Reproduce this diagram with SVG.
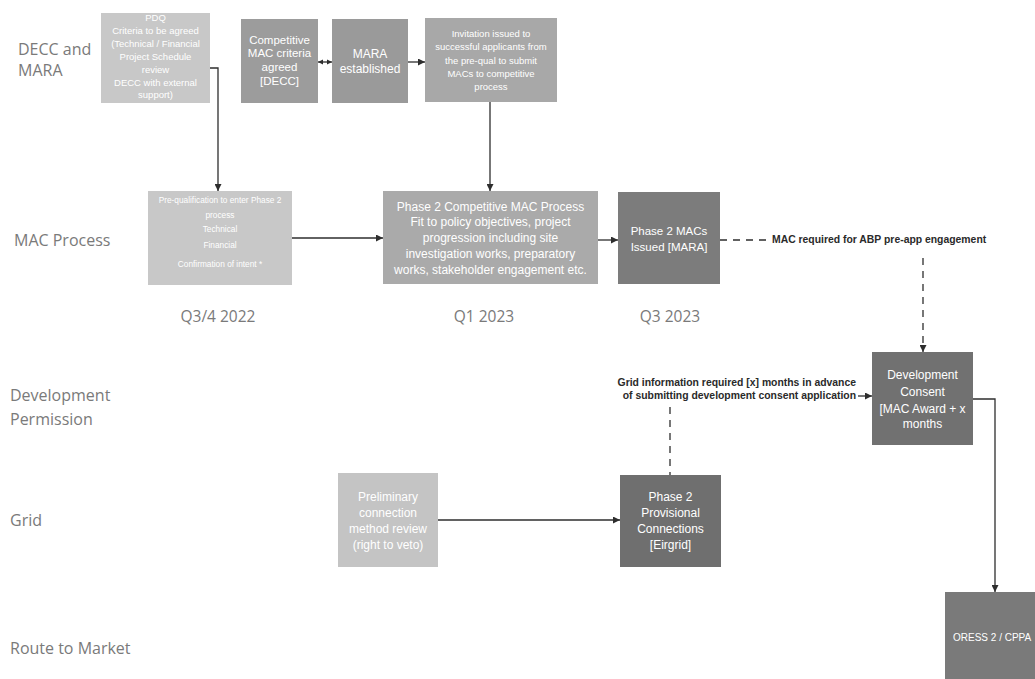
<svg xmlns="http://www.w3.org/2000/svg" width="1035" height="679" viewBox="0 0 1035 679">
<defs>
<style>
.lane{font-family:"Open Sans","Liberation Sans",sans-serif;font-size:16px;fill:#7a7a7a}
.q{font-family:"Open Sans","Liberation Sans",sans-serif;font-size:15.5px;fill:#7a7a7a;text-anchor:middle}
.bt{font-family:"Liberation Sans",Arial,sans-serif;fill:#ffffff;text-anchor:middle}
.light{fill:#c8c8c8}
.mid{fill:#a2a2a2}
.dark{fill:#747474}
.ln{fill:none;stroke:#2e2e2e;stroke-width:1.3}
.dash{fill:none;stroke:#2e2e2e;stroke-width:1.3;stroke-dasharray:7,6}
.note{font-family:"Liberation Sans",Arial,sans-serif;font-size:10.4px;fill:#2a2a2a;font-weight:bold}
</style>
<marker id="ah" viewBox="0 0 10 10" refX="10" refY="5" markerWidth="7" markerHeight="7" orient="auto-start-reverse" markerUnits="userSpaceOnUse">
<path d="M0,0 L10,5 L0,10 z" fill="#2e2e2e"/>
</marker>
<marker id="ahs" viewBox="0 0 10 10" refX="10" refY="5" markerWidth="5" markerHeight="6" orient="auto-start-reverse" markerUnits="userSpaceOnUse">
<path d="M0,0 L10,5 L0,10 z" fill="#2e2e2e"/>
</marker>
</defs>
<rect width="1035" height="679" fill="#ffffff"/>

<g id="lanes">
<text class="lane" x="18" y="55">DECC and</text>
<text class="lane" x="18" y="76">MARA</text>
<text class="lane" x="14" y="246">MAC Process</text>
<text class="lane" x="10" y="401">Development</text>
<text class="lane" x="10" y="425">Permission</text>
<text class="lane" x="10" y="526">Grid</text>
<text class="lane" x="10" y="654">Route to Market</text>
<text class="q" x="218" y="322">Q3/4 2022</text>
<text class="q" x="484" y="322">Q1 2023</text>
<text class="q" x="670" y="322">Q3 2023</text>
</g>

<g id="connectors">
<line class="ln" x1="318" y1="62" x2="332" y2="62" marker-start="url(#ahs)" marker-end="url(#ahs)"/>
<line class="ln" x1="408" y1="62" x2="425" y2="62" marker-end="url(#ah)"/>
<path class="ln" d="M210,68 H218 V191" marker-end="url(#ah)"/>
<line class="ln" x1="292" y1="238" x2="383" y2="238" marker-end="url(#ah)"/>
<line class="ln" x1="490" y1="102" x2="490" y2="191" marker-end="url(#ah)"/>
<line class="ln" x1="598" y1="240" x2="618" y2="240" marker-end="url(#ah)"/>
<line class="dash" x1="720" y1="240" x2="770" y2="240"/>
<line class="dash" x1="923" y1="258" x2="923" y2="352" marker-end="url(#ah)"/>
<line class="ln" x1="858" y1="396" x2="872" y2="396" marker-end="url(#ah)"/>
<line class="dash" x1="670" y1="407" x2="670" y2="475"/>
<path class="ln" d="M973,399 H995 V592" marker-end="url(#ah)"/>
<line class="ln" x1="438" y1="520" x2="620" y2="520" marker-end="url(#ah)"/>
<text class="note" x="772" y="243">MAC required for ABP pre-app engagement</text>
<text class="note" x="856" y="386" text-anchor="end">Grid information required [x] months in advance</text>
<text class="note" x="856" y="399" text-anchor="end">of submitting development consent application</text>
</g>

<g id="pdq">
<rect class="light" x="101" y="13" width="109" height="90"/>
<text class="bt" font-size="9.5"><tspan x="155.5" y="21">PDQ</tspan><tspan x="155.5" y="34">Criteria to be agreed</tspan><tspan x="155.5" y="47">(Technical / Financial</tspan><tspan x="155.5" y="60">Project Schedule</tspan><tspan x="155.5" y="73">review</tspan><tspan x="155.5" y="86">DECC with external</tspan><tspan x="155.5" y="98">support)</tspan></text>
</g>

<g id="criteria">
<rect x="241" y="19" width="77" height="84" fill="#9c9c9c"/>
<text class="bt" font-size="11.5"><tspan x="279.5" y="44">Competitive</tspan><tspan x="279.5" y="57">MAC criteria</tspan><tspan x="279.5" y="71">agreed</tspan><tspan x="279.5" y="85">[DECC]</tspan></text>
</g>

<g id="mara">
<rect x="332" y="19" width="76" height="84" fill="#9a9a9a"/>
<text class="bt" font-size="12"><tspan x="370" y="58">MARA</tspan><tspan x="370" y="73">established</tspan></text>
</g>

<g id="invitation">
<rect x="425" y="18" width="132" height="84" fill="#a8a8a8"/>
<text class="bt" font-size="9.5"><tspan x="491" y="37">Invitation issued to</tspan><tspan x="491" y="50">successful applicants from</tspan><tspan x="491" y="64">the pre-qual to submit</tspan><tspan x="491" y="77">MACs to competitive</tspan><tspan x="491" y="90">process</tspan></text>
</g>

<g id="prequal">
<rect class="light" x="148" y="191" width="144" height="94"/>
<text class="bt" font-size="8.3"><tspan x="220" y="203">Pre-qualification to enter Phase 2</tspan><tspan x="220" y="218">process</tspan><tspan x="220" y="232">Technical</tspan><tspan x="220" y="248">Financial</tspan><tspan x="220" y="267">Confirmation of intent *</tspan></text>
</g>

<g id="phase2-competitive">
<rect x="383" y="191" width="215" height="93" fill="#aaaaaa"/>
<text class="bt" font-size="12"><tspan x="490.5" y="211">Phase 2 Competitive MAC Process</tspan><tspan x="490.5" y="226">Fit to policy objectives, project</tspan><tspan x="490.5" y="242">progression including site</tspan><tspan x="490.5" y="258">investigation works, preparatory</tspan><tspan x="490.5" y="274">works, stakeholder engagement etc.</tspan></text>
</g>

<g id="phase2-macs">
<rect x="618" y="192" width="102" height="92" fill="#7c7c7c"/>
<text class="bt" font-size="11.5"><tspan x="669" y="235">Phase 2 MACs</tspan><tspan x="669" y="251">Issued [MARA]</tspan></text>
</g>

<g id="development-consent">
<rect x="872" y="352" width="101" height="93" fill="#717171"/>
<text class="bt" font-size="12"><tspan x="922.5" y="379">Development</tspan><tspan x="922.5" y="396">Consent</tspan><tspan x="922.5" y="413">[MAC Award + x</tspan><tspan x="922.5" y="428">months</tspan></text>
</g>

<g id="preliminary">
<rect x="338" y="473" width="100" height="94" fill="#c4c4c4"/>
<text class="bt" font-size="12"><tspan x="388" y="501">Preliminary</tspan><tspan x="388" y="517">connection</tspan><tspan x="388" y="533">method review</tspan><tspan x="388" y="549">(right to veto)</tspan></text>
</g>

<g id="phase2-provisional">
<rect x="620" y="475" width="101" height="92" fill="#6f6f6f"/>
<text class="bt" font-size="12"><tspan x="670.5" y="501">Phase 2</tspan><tspan x="670.5" y="517">Provisional</tspan><tspan x="670.5" y="533">Connections</tspan><tspan x="670.5" y="549">[Eirgrid]</tspan></text>
</g>

<g id="oress">
<rect x="945" y="592" width="95" height="90" fill="#7a7a7a"/>
<text class="bt" font-size="10" style="text-anchor:start" x="953" y="641">ORESS 2 / CPPA</text>
</g>
</svg>
